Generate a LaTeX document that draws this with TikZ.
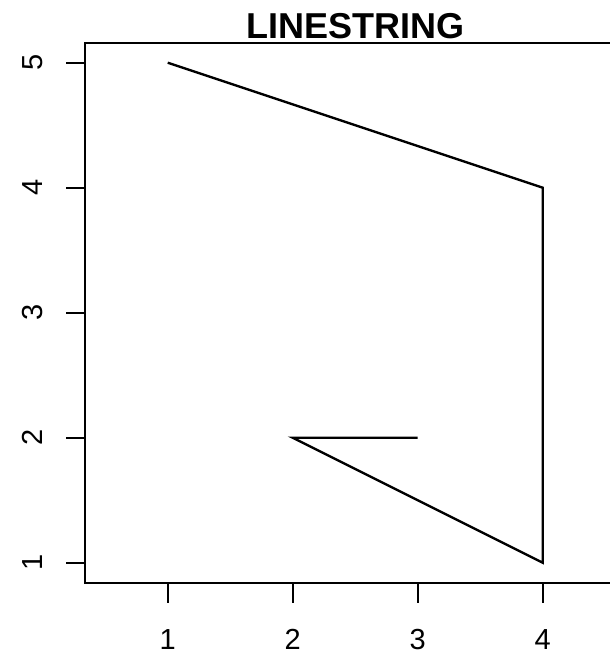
\documentclass[tikz,border=0pt]{standalone}
\usepackage{fontspec}
\setmainfont{Liberation Sans}
\begin{document}
\begin{tikzpicture}[x=1pt,y=-1pt,
  axisline/.style={line width=2.4pt,line cap=rect},
  tickline/.style={line width=2.4pt},
  dataline/.style={line width=2.4pt,line join=miter},
  ticklabel/.style={font=\fontsize{29}{29}\selectfont,inner sep=0pt,anchor=base},
  titlelabel/.style={font=\fontsize{36}{36}\bfseries\selectfont,inner sep=0pt,anchor=base}]
\useasboundingbox (0,0) rectangle (610,656);
% data coordinates: px = 42.7+125x, py = 62.7+125(5-y)
\coordinate (p1) at (167.7,62.7);
\coordinate (p2) at (542.7,187.7);
\coordinate (p3) at (542.7,562.7);
\coordinate (p4) at (292.7,437.7);
\coordinate (p5) at (417.7,437.7);
% box (right edge beyond the picture)
\coordinate (bl) at (84.7,583);
\coordinate (tl) at (84.7,42.7);
\coordinate (tr) at (625.7,42.7);
\coordinate (br) at (625.7,583);
\draw[axisline] (tr) -- (tl) -- (bl) -- (br);
% title
\node[titlelabel] (title) at (355.2,38.3) {LINESTRING};
% x ticks
\foreach \v in {1,2,3,4}{
  \coordinate (xt\v) at ({42.7+125*\v},583);
  \coordinate (xe\v) at ({42.7+125*\v},603);
  \draw[tickline] (xt\v) -- (xe\v);
  \node[ticklabel] (xl\v) at ({42.7+125*\v},649.3) {\v};
}
% y ticks
\foreach \v in {1,2,3,4,5}{
  \coordinate (yt\v) at (84.7,{62.7+125*(5-\v)});
  \coordinate (ye\v) at (65.7,{62.7+125*(5-\v)});
  \draw[tickline] (yt\v) -- (ye\v);
  \node[ticklabel,rotate=90] (yl\v) at (42.7,{62.7+125*(5-\v)}) {\v};
}
% linestring
\draw[dataline] (p1) -- (p2) -- (p3) -- (p4) -- (p5);
\end{tikzpicture}
\end{document}
